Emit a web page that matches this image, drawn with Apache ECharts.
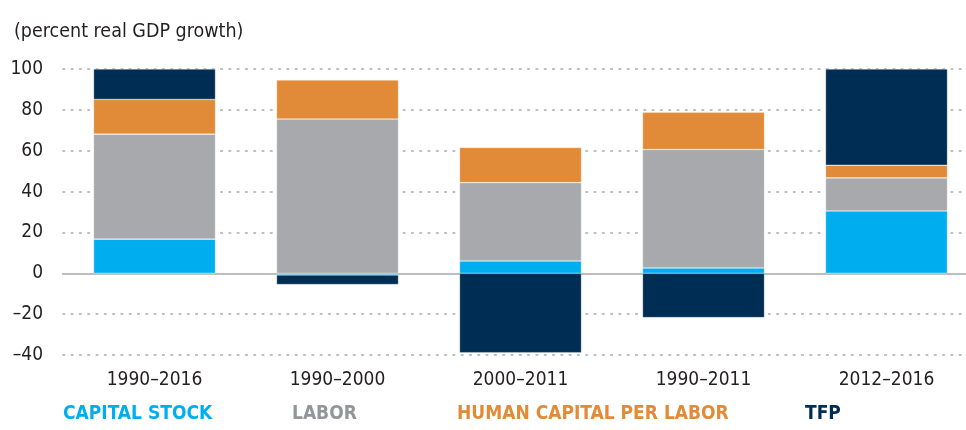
<!DOCTYPE html>
<html>
<head>
<meta charset="utf-8">
<script src="https://cdn.jsdelivr.net/npm/echarts@6/dist/echarts.min.js"></script>
<style>
  html, body { margin: 0; padding: 0; background: #fff; }
  #main { width: 966px; height: 430px; }
</style>
</head>
<body>
<div id="main"></div>
<script>
// contribution to real GDP growth, stacked by source

var periods = ['1990–2016', '1990–2000', '2000–2011', '1990–2011', '2012–2016'];
var capitalStock = [16.7, -0.8, 6.0, 2.6, 30.5];
var labor = [51.4, 75.5, 38.4, 58.0, 16.2];
var humanCapital = [17.0, 19.1, 17.2, 18.2, 6.2];
var tfp = [14.9, -4.7, -38.9, -21.7, 47.1];

var names = ['CAPITAL STOCK', 'LABOR', 'HUMAN CAPITAL PER LABOR', 'TFP'];
var colors = ['#00aeef', '#a7a9ac', '#e18a37', '#002d54'];
var legendColors = ['#00aeef', '#939598', '#e18a37', '#002d54'];
var legendLeft = [57, 286, 451, 799];

var font = '"Liberation Sans Narrow", "DejaVu Sans Condensed", sans-serif';

var chart = echarts.init(document.getElementById('main'));

function barSeries(i, data) {
    return {
        name: names[i],
        type: 'bar',
        stack: 'total',
        barWidth: 122,
        data: data,
        itemStyle: {
            color: colors[i],
            borderColor: 'rgba(255,255,255,0.5)',
            borderWidth: 0.6
        }
    };
}

var legends = names.map(function (n, i) {
    return {
        data: [n],
        left: legendLeft[i],
        top: 405,
        icon: 'rect',
        itemWidth: 0,
        itemHeight: 0,
        itemGap: 0,
        selectedMode: false,
        padding: 0,
        textStyle: {
            color: legendColors[i],
            fontFamily: font,
            fontWeight: 'bold',
            fontSize: 19
        }
    };
});

option = {
    animation: false,
    title: {
        text: '(percent real GDP growth)',
        left: 9,
        top: 17,
        textStyle: {
            fontFamily: font,
            fontWeight: 'normal',
            fontSize: 19.5,
            color: '#231f20'
        }
    },
    legend: legends,
    grid: {
        left: 63,
        right: -12,
        top: 69,
        bottom: 75,
        outerBoundsMode: 'none'
    },
    xAxis: [
        {
            // labels along the bottom
            type: 'category',
            data: periods,
            position: 'bottom',
            axisLine: { show: false, onZero: false },
            axisTick: { show: false },
            axisLabel: {
                fontFamily: font,
                fontSize: 19,
                color: '#231f20',
                margin: 16
            }
        },
        {
            // zero line with boundary ticks
            type: 'category',
            data: periods,
            position: 'bottom',
            axisLine: { onZero: true, lineStyle: { color: '#bcbec0', width: 2 } },
            axisTick: { inside: true, length: 6, lineStyle: { color: '#bcbec0', width: 1.5 } },
            axisLabel: { show: false }
        }
    ],
    yAxis: {
        type: 'value',
        min: -40,
        max: 100,
        interval: 20,
        axisLine: { show: false },
        axisTick: { show: false },
        axisLabel: {
            fontFamily: font,
            fontSize: 19,
            color: '#231f20',
            margin: 20,
            formatter: function (v) { return String(v).replace('-', '–'); }
        },
        splitLine: {
            lineStyle: { color: '#a7a9ac', width: 1.6, type: [1.6, 6.7], cap: 'round' }
        }
    },
    series: [
        barSeries(0, capitalStock),
        barSeries(1, labor),
        barSeries(2, humanCapital),
        barSeries(3, tfp)
    ]
};

chart.setOption(option);
</script>
</body>
</html>
